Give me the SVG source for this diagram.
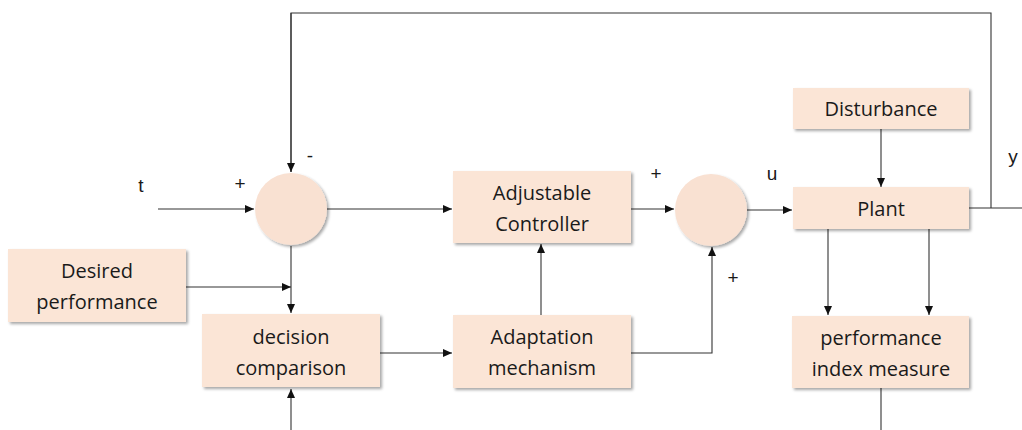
<svg xmlns="http://www.w3.org/2000/svg" width="1022" height="430" viewBox="0 0 1022 430">
<defs>
<style>
.box{fill:#FBE5D6;filter:url(#sh)}
.sum{fill:#F9E1D2;filter:url(#sh)}
.t{font-family:"Open Sans","Liberation Sans",sans-serif;font-size:20px;fill:#1a1a1a;text-anchor:middle}
.s{font-family:"Liberation Sans",sans-serif;font-size:19px;fill:#1a1a1a;text-anchor:middle}
.c{stroke:#333;stroke-width:1.1;fill:none}
.a{marker-end:url(#ah)}
</style>
<filter id="sh" x="-10%" y="-10%" width="125%" height="130%">
<feGaussianBlur in="SourceAlpha" stdDeviation="1.5"/>
<feOffset dx="2" dy="2" result="b"/>
<feComponentTransfer><feFuncA type="linear" slope="0.35"/></feComponentTransfer>
<feMerge><feMergeNode/><feMergeNode in="SourceGraphic"/></feMerge>
</filter>
<marker id="ah" markerWidth="10" markerHeight="8" refX="9" refY="4" orient="auto" markerUnits="userSpaceOnUse">
<path d="M0,0 L9,4 L0,8 Z" fill="#111"/>
</marker>
</defs>
<rect width="1022" height="430" fill="#fff"/>
<g id="connectors">
<path class="c" d="M291,172 V13 H991 V208"/>
<path class="c a" d="M291,13 V172"/>
<path class="c a" d="M158,209 H254"/>
<path class="c a" d="M327,209 H452"/>
<path class="c a" d="M631,209 H674"/>
<path class="c a" d="M747,210 H792"/>
<path class="c" d="M969,208 H1022"/>
<path class="c a" d="M881,129 V187"/>
<path class="c a" d="M186,287 H291"/>
<path class="c a" d="M291,246 V313"/>
<path class="c a" d="M291,430 V389"/>
<path class="c a" d="M380,353 H452"/>
<path class="c a" d="M541,315 V244"/>
<path class="c a" d="M631,353 H712 V247"/>
<path class="c a" d="M828,229 V315"/>
<path class="c a" d="M929,229 V315"/>
<path class="c" d="M881,388 V430"/>
</g>
<g id="sum1"><circle class="sum" cx="291" cy="209" r="36"/></g>
<g id="sum2"><circle class="sum" cx="711" cy="210" r="36"/></g>
<g id="adjustable-controller"><rect class="box" x="453" y="171" width="178" height="72"/>
<text class="t" x="542" y="200">Adjustable</text><text class="t" x="542" y="231">Controller</text></g>
<g id="desired-performance"><rect class="box" x="8" y="249" width="178" height="73"/>
<text class="t" x="97" y="278">Desired</text><text class="t" x="97" y="309">performance</text></g>
<g id="decision-comparison"><rect class="box" x="202" y="314" width="178" height="73"/>
<text class="t" x="291" y="344">decision</text><text class="t" x="291" y="375">comparison</text></g>
<g id="adaptation-mechanism"><rect class="box" x="453" y="315" width="178" height="73"/>
<text class="t" x="542" y="344">Adaptation</text><text class="t" x="542" y="375">mechanism</text></g>
<g id="disturbance"><rect class="box" x="793" y="88" width="176" height="41"/>
<text class="t" x="881" y="116">Disturbance</text></g>
<g id="plant"><rect class="box" x="793" y="187" width="176" height="42"/>
<text class="t" x="881" y="216">Plant</text></g>
<g id="performance-index-measure"><rect class="box" x="792" y="316" width="177" height="72"/>
<text class="t" x="881" y="345">performance</text><text class="t" x="881" y="376">index measure</text></g>
<g id="labels">
<text class="s" x="141" y="192">t</text>
<text class="s" x="240" y="190">+</text>
<text class="s" x="310" y="162">-</text>
<text class="s" x="656" y="180">+</text>
<text class="s" x="772" y="180">u</text>
<text class="s" x="733" y="284">+</text>
<text class="s" x="1013" y="163">y</text>
</g>
</svg>
